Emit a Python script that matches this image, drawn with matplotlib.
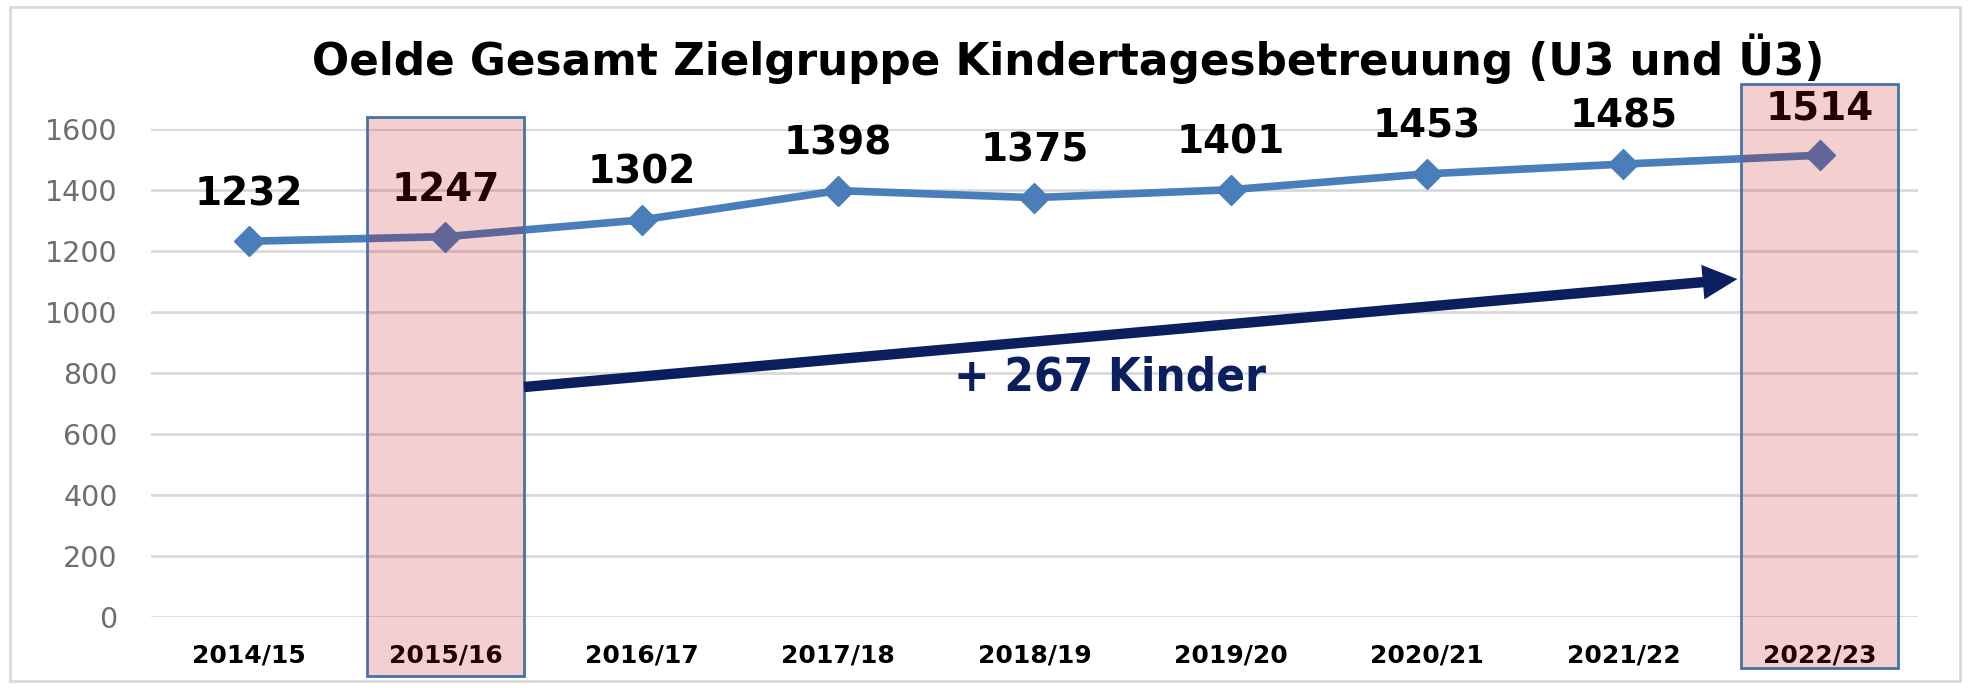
import matplotlib
matplotlib.use("Agg")
import matplotlib.pyplot as plt
from matplotlib.patches import Rectangle, FancyArrowPatch

categories = ["2014/15", "2015/16", "2016/17", "2017/18", "2018/19",
              "2019/20", "2020/21", "2021/22", "2022/23"]
values = [1232, 1247, 1302, 1398, 1375, 1401, 1453, 1485, 1514]
yticks = [0, 200, 400, 600, 800, 1000, 1200, 1400, 1600]
highlight = ["2015/16", "2022/23"]
title = "Oelde Gesamt Zielgruppe Kindertagesbetreuung (U3 und Ü3)"
annot_text = "+ 267 Kinder"

FONT = ["DejaVu Sans"]

fig = plt.figure(figsize=(19.70, 6.88), dpi=100)
ax = fig.add_axes([0.0766, 0.1032, 0.897, 0.7093])

x = list(range(len(categories)))
ax.plot(x, values, color="#4a7ebb", lw=5.5, marker="D", ms=15,
        markerfacecolor="#4a7ebb", markeredgecolor="#4a7ebb", zorder=3)

for xi, v in zip(x, values):
    ax.annotate(str(v), (xi, v), xytext=(0, 26), textcoords="offset points",
                ha="center", va="baseline", fontsize=28, fontweight="bold",
                family=FONT, color="black", zorder=4)

ax.set_xlim(-0.5, len(categories) - 0.5)
ax.set_ylim(0, 1600)
ax.set_yticks(yticks)
ax.set_xticks(x)
ax.set_xticklabels(categories, fontsize=18, fontweight="bold", family=FONT)
for lab in ax.get_yticklabels():
    lab.set_fontsize(20.5)
    lab.set_color("#6e6e6e")
    lab.set_family(FONT)
ax.tick_params(axis="both", length=0)
ax.tick_params(axis="y", pad=24)
ax.tick_params(axis="x", pad=19)
ax.grid(axis="y", color="#d9d9d9", lw=2)
ax.set_axisbelow(True)
for s in ax.spines.values():
    s.set_visible(False)

# highlight boxes
box_specs = {"2015/16": (-193, 1639), "2022/23": (-167, 1748)}
for cat in highlight:
    i = categories.index(cat)
    y0, y1 = box_specs[cat]
    ax.add_patch(Rectangle((i - 0.4, y0), 0.8, y1 - y0, facecolor="#c00000",
                           alpha=0.19, edgecolor="none", clip_on=False, zorder=5))
    ax.add_patch(Rectangle((i - 0.4, y0), 0.8, y1 - y0, facecolor="none",
                           edgecolor="#4672a8", lw=2, clip_on=False, zorder=6))

# arrow
i0 = categories.index(highlight[0])
i1 = categories.index(highlight[1])
arr = FancyArrowPatch((i0 + 0.4, 754), (i1 - 0.42, 1108), arrowstyle="-|>",
                      mutation_scale=32, color="#0b1f5e", lw=7.5, clip_on=False,
                      zorder=6, shrinkA=0, shrinkB=0, joinstyle="miter",
                      capstyle="butt")
ax.add_patch(arr)
ax.text(4.385, 744, annot_text, ha="center", va="baseline", fontsize=34,
        fontweight="bold", fontstretch="condensed", color="#0b1f5e",
        family=FONT, zorder=7)

fig.text(0.542, 0.914, title, ha="center", va="center", fontsize=31.5,
         fontweight="bold", family=FONT, color="black")

fig.add_artist(Rectangle((0.005, 0.01), 0.99, 0.98, transform=fig.transFigure,
                         facecolor="none", edgecolor="#d9d9d9", lw=2))

fig.savefig("out.png", dpi=100)
